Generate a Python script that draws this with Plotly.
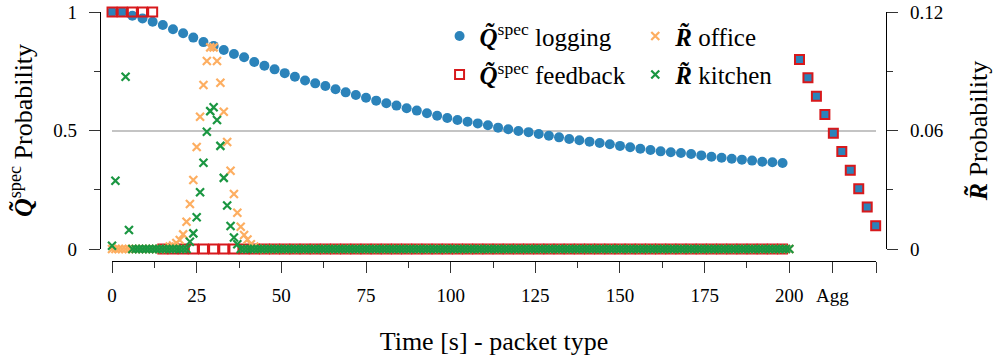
import plotly.graph_objects as go

# ---------------- data ----------------
time_logging = list(range(0, 199, 3))  # packet times (s)
q_logging = [1.0, 1.0, 0.984, 0.973, 0.959, 0.945, 0.927, 0.910, 0.892, 0.873,
             0.857, 0.840, 0.823, 0.809, 0.789, 0.773, 0.758, 0.742, 0.727, 0.711,
             0.699, 0.688, 0.674, 0.661, 0.650, 0.638, 0.626, 0.615, 0.605, 0.594,
             0.584, 0.573, 0.562, 0.553, 0.544, 0.537, 0.530, 0.522, 0.512, 0.505,
             0.498, 0.493, 0.485, 0.478, 0.471, 0.464, 0.459, 0.453, 0.447, 0.442,
             0.435, 0.429, 0.423, 0.418, 0.412, 0.408, 0.405, 0.401, 0.395, 0.389,
             0.385, 0.381, 0.377, 0.373, 0.368, 0.366, 0.363]
q_feedback = [1, 1, 1, 1, 1] + [0] * 62

agg_x = [203.0, 205.5, 208.0, 210.5, 213.0, 215.5, 218.0, 220.5, 223.0, 225.5]
agg_values = [0.800, 0.723, 0.644, 0.567, 0.488, 0.411, 0.332, 0.254, 0.177, 0.098]

time_r = list(range(0, 201))
office_peak_start = 17
office_peak = [0.0012, 0.0018, 0.0030, 0.0046, 0.0074, 0.0138, 0.0228, 0.0349,
               0.0516, 0.0670, 0.0830, 0.0952, 0.1021, 0.1021, 0.0952, 0.0842,
               0.0695, 0.0542, 0.0396, 0.0278, 0.0184, 0.0113, 0.0071, 0.0048,
               0.0024, 0.0012]
kitchen_start = [0.0016, 0.0346, None, None, 0.0872, 0.0096]
kitchen_peak_start = 23
kitchen_peak = [0.0037, 0.0079, 0.0161, 0.0287, 0.0437, 0.0594, 0.0698, 0.0718,
                0.0653, 0.0522, 0.0360, 0.0220, 0.0116, 0.0058, 0.0024]

r_office = [0.0] * len(time_r)
r_office[office_peak_start:office_peak_start + len(office_peak)] = office_peak
r_kitchen = [0.0] * len(time_r)
r_kitchen[0:len(kitchen_start)] = kitchen_start
r_kitchen[kitchen_peak_start:kitchen_peak_start + len(kitchen_peak)] = kitchen_peak

x_tickvals = [0, 25, 50, 75, 100, 125, 150, 175, 200, 212.7, 225.6]
x_ticktext = ["0", "25", "50", "75", "100", "125", "150", "175", "200", "Agg", ""]
x_minor = [12.5, 37.5, 62.5, 87.5, 112.5, 137.5, 162.5, 187.5]
y_tickvals = [0, 0.5, 1]
y_ticktext = ["0", "0.5", "1"]
y2_tickvals = [0, 0.06, 0.12]
y2_ticktext = ["0", "0.06", "0.12"]

# ---------------- style ----------------
BLUE = "#2b83ba"
RED = "#d7191c"
ORANGE = "#fdae61"
GREEN = "#1a9641"
FONT = "Liberation Serif, DejaVu Serif, serif"
Q = "<b><i>Q\u0303</i></b><sup>spec</sup>"
R = "<b><i>R\u0303</i></b>"

fig = go.Figure()
fig.add_trace(go.Scatter(
    x=time_logging, y=q_logging, mode="markers", name=Q + " logging",
    marker=dict(symbol="circle", size=10, color=BLUE),
    cliponaxis=False, legend="legend", legendgroup="a"))
fig.add_trace(go.Scatter(
    x=time_logging, y=q_feedback, mode="markers", name=Q + " feedback",
    marker=dict(symbol="square-open", size=9, color=RED, line=dict(width=2, color=RED)),
    cliponaxis=False, legend="legend", legendgroup="b"))
fig.add_trace(go.Scatter(
    x=agg_x, y=agg_values, mode="markers", showlegend=False,
    marker=dict(symbol="square", size=9, color=BLUE, line=dict(width=2, color=RED)),
    cliponaxis=False))
fig.add_trace(go.Scatter(
    x=time_r, y=r_office, mode="markers", name=R + " office", yaxis="y2",
    marker=dict(symbol="x-thin", size=8, color=ORANGE, line=dict(width=2.2, color=ORANGE)),
    cliponaxis=False, legend="legend2", legendgroup="c"))
fig.add_trace(go.Scatter(
    x=time_r, y=r_kitchen, mode="markers", name=R + " kitchen", yaxis="y2",
    marker=dict(symbol="x-thin", size=8, color=GREEN, line=dict(width=2.2, color=GREEN)),
    cliponaxis=False, legend="legend2", legendgroup="d"))

axis_common = dict(showline=True, linecolor="black", linewidth=1.3, ticks="outside",
                   ticklen=11, tickwidth=1.3, tickcolor="#333",
                   tickfont=dict(family=FONT, size=19, color="black"),
                   zeroline=False, automargin=False, ticklabeloverflow="allow")

fig.update_layout(
    width=1001, height=361,
    margin=dict(l=100, r=115, t=12, b=100),
    plot_bgcolor="white", paper_bgcolor="white",
    font=dict(family=FONT, color="black"),
    xaxis=dict(domain=[0.0153, 0.9873], range=[0, 225.6], anchor="free", position=0,
               tickvals=x_tickvals, ticktext=x_ticktext, showgrid=False,
               ticklabelstandoff=6,
               minor=dict(tickvals=x_minor, ticklen=6, ticks="outside", tickwidth=1.3,
                          tickcolor="#333", showgrid=False),
               title=dict(text="Time [s] - packet type", font=dict(family=FONT, size=26),
                          standoff=26),
               **axis_common),
    yaxis=dict(domain=[0.0482, 1], range=[0, 1], anchor="free", position=0,
               tickvals=y_tickvals, ticktext=y_ticktext, showgrid=True,
               gridcolor="#c4c4c4", gridwidth=1.5, ticklabelstandoff=8,
               minor=dict(tickvals=[0.25, 0.75], ticklen=6, ticks="outside", tickwidth=1.3,
                          tickcolor="#333", showgrid=False),
               title=dict(text=Q + " Probability", font=dict(family=FONT, size=26),
                          standoff=12),
               **axis_common),
    yaxis2=dict(overlaying="y", side="right", range=[0, 0.12], anchor="free", position=1,
                tickvals=y2_tickvals, ticktext=y2_ticktext, showgrid=False,
                ticklabelstandoff=8,
                minor=dict(tickvals=[0.03, 0.09], ticklen=6, ticks="outside", tickwidth=1.3,
                           tickcolor="#333", showgrid=False),
                title=dict(text=R + " Probability", font=dict(family=FONT, size=26),
                           standoff=26),
                **axis_common),
    legend=dict(x=0.432, y=0.995, xanchor="left", yanchor="top",
                font=dict(family=FONT, size=25), bgcolor="rgba(0,0,0,0)",
                tracegroupgap=3, itemclick=False),
    legend2=dict(x=0.681, y=0.995, xanchor="left", yanchor="top",
                 font=dict(family=FONT, size=25), bgcolor="rgba(0,0,0,0)",
                 tracegroupgap=3, itemclick=False),
)

fig.write_html("out.html", config={"displayModeBar": False},
               post_script="document.body.style.margin='0px';")
